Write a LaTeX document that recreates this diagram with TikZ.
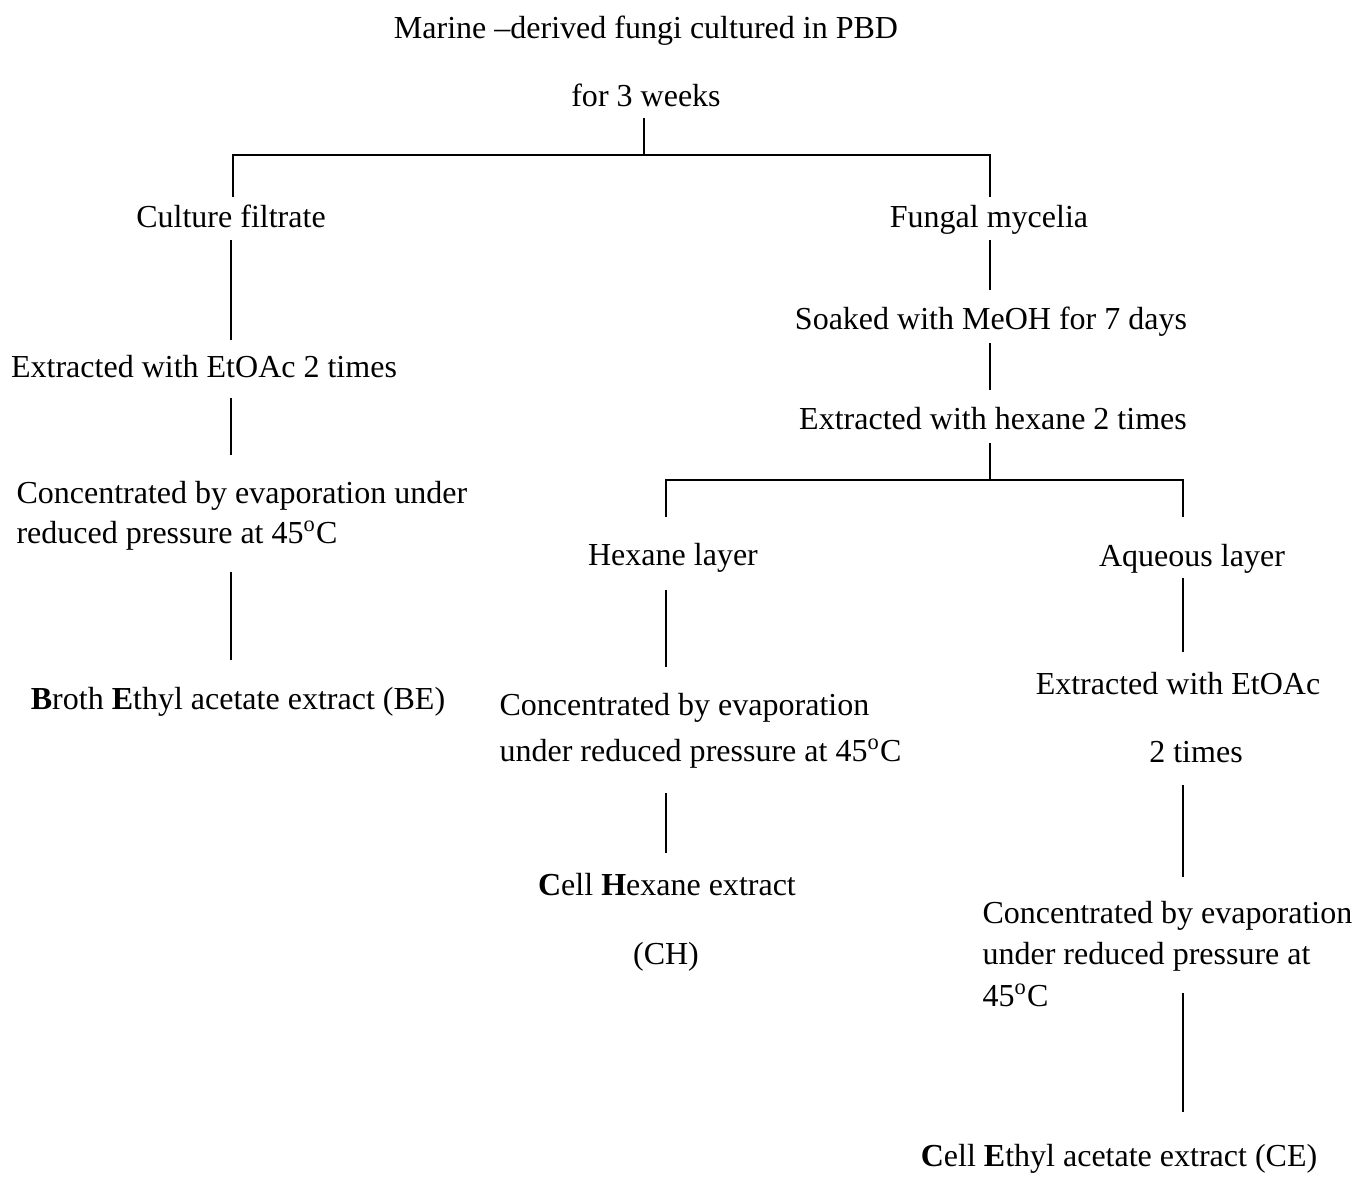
\documentclass[tikz,border=0pt]{standalone}
\usepackage{fontspec}
\setmainfont{Liberation Serif}
\begin{document}
\begin{tikzpicture}[
  x=0.0135cm, y=-0.0135cm,
  font=\fontsize{12.3pt}{14pt}\selectfont,
  stage/.style={inner sep=0pt, anchor=base},
  para/.style={inner sep=0pt, anchor=base west, align=left},
  link/.style={draw=black, line width=0.8pt}
]
\useasboundingbox (0,0) rectangle (1359,1178);

% top of the scheme
\node[stage] (culture) at (646, 38) {Marine --derived fungi cultured in PBD};
\node[stage] (weeks) at (646, 106) {for 3 weeks};

% broth branch (paragraphs sit on their last baseline)
\node[stage] (filtrate) at (231, 227) {Culture filtrate};
\node[stage] (etoacA) at (204, 377) {Extracted with EtOAc 2 times};
\node[para, font=\fontsize{12.3pt}{15pt}\selectfont] (concA) at (16, 543) {Concentrated by evaporation under\\reduced pressure at 45\textsuperscript{o}C};
\node[stage] (broth) at (238, 709) {\textbf{B}roth \textbf{E}thyl acetate extract (BE)};

% mycelium branch
\node[stage] (mycelia) at (989, 227) {Fungal mycelia};
\node[stage] (soak) at (991, 329) {Soaked with MeOH for 7 days};
\node[stage] (hexext) at (993, 429) {Extracted with hexane 2 times};

% hexane layer
\node[stage] (hexlayer) at (673, 565) {Hexane layer};
\node[para, font=\fontsize{12.3pt}{17.3pt}\selectfont] (concB) at (499, 761) {Concentrated by evaporation\\under reduced pressure at 45\textsuperscript{o}C};
\node[stage] (cellhex) at (667, 895) {\textbf{C}ell \textbf{H}exane extract};
\node[stage] (ch) at (666, 964) {(CH)};

% aqueous layer
\node[stage] (aqlayer) at (1192, 566) {Aqueous layer};
\node[stage] (etoacB) at (1178, 694) {Extracted with EtOAc};
\node[stage] (times) at (1196, 762) {2 times};
\node[para, font=\fontsize{12.3pt}{15.8pt}\selectfont] (concC) at (982, 1006) {Concentrated by evaporation\\under reduced pressure at\\45\textsuperscript{o}C};
\node[stage] (cellea) at (1119, 1166) {\textbf{C}ell \textbf{E}thyl acetate extract (CE)};

% first split
\draw[link] (weeks.base) ++(-2,12) -- ++(0,37) coordinate (split1);
\draw[link] ([shift={(2,-30)}]filtrate.base) |- (split1) -| ([shift={(1,-30)}]mycelia.base);

% second split
\draw[link] (hexext.base) ++(-3,14) -- ++(0,37) coordinate (split2);
\draw[link] ([shift={(-7,-48)}]hexlayer.base) |- (split2) -| ([shift={(-9,-49)}]aqlayer.base);

% steps
\draw[link] (filtrate.base) ++(0,13) -- ++(0,100);
\draw[link] (etoacA.base) ++(27,21) -- ++(0,57);
\draw[link] (concA.base west) ++(215,29) -- ++(0,88);
\draw[link] (mycelia.base) ++(1,13) -- ++(0,50);
\draw[link] (soak.base) ++(-1,14) -- ++(0,47);
\draw[link] (hexlayer.base) ++(-7,25) -- ++(0,77);
\draw[link] (aqlayer.base) ++(-9,12) -- ++(0,74);
\draw[link] (concB.base west) ++(167,32) -- ++(0,60);
\draw[link] (times.base) ++(-13,23) -- ++(0,92);
\draw[link] (concC.base west) ++(201,-13) -- ++(0,119);

\end{tikzpicture}
\end{document}
